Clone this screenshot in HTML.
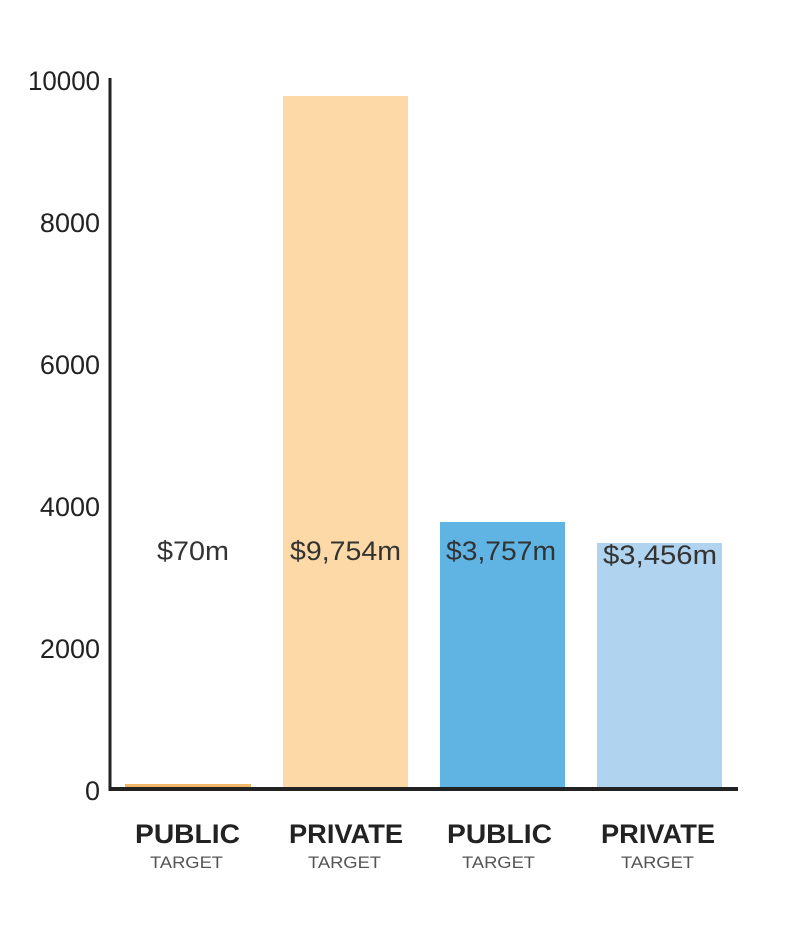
<!DOCTYPE html>
<html><head><style>
body{margin:0;background:#fff;}
svg{display:block;}
</style></head><body>
<svg width="800" height="925" xmlns="http://www.w3.org/2000/svg" font-family="Liberation Sans, sans-serif">
<rect width="800" height="925" fill="#fff"/>
<g font-size="27" fill="#222" text-anchor="end">
<text x="100" y="90" textLength="72" lengthAdjust="spacingAndGlyphs">10000</text>
<text x="100" y="232">8000</text>
<text x="100" y="374">6000</text>
<text x="100" y="516">4000</text>
<text x="100" y="658">2000</text>
<text x="100" y="800">0</text>
</g>
<rect x="125" y="784" width="126" height="6" fill="#f0b868"/>
<rect x="283" y="96" width="125" height="694" fill="#fdd9a8"/>
<rect x="440" y="522" width="125" height="268" fill="#5fb4e4"/>
<rect x="597" y="543" width="125" height="247" fill="#b0d4ef"/>
<line x1="110" y1="78" x2="110" y2="791" stroke="#222" stroke-width="3"/>
<line x1="109" y1="789" x2="738" y2="789" stroke="#222" stroke-width="4"/>
<g font-size="27" fill="#333">
<text x="157" y="560" textLength="72" lengthAdjust="spacingAndGlyphs">$70m</text>
<text x="290" y="560" textLength="111" lengthAdjust="spacingAndGlyphs">$9,754m</text>
<text x="446" y="560" textLength="110" lengthAdjust="spacingAndGlyphs">$3,757m</text>
<text x="603" y="564" textLength="114" lengthAdjust="spacingAndGlyphs">$3,456m</text>
</g>
<g font-size="27" font-weight="bold" fill="#222">
<text x="135" y="843" textLength="105" lengthAdjust="spacingAndGlyphs">PUBLIC</text>
<text x="289" y="843" textLength="114" lengthAdjust="spacingAndGlyphs">PRIVATE</text>
<text x="447" y="843" textLength="105" lengthAdjust="spacingAndGlyphs">PUBLIC</text>
<text x="601" y="843" textLength="114" lengthAdjust="spacingAndGlyphs">PRIVATE</text>
</g>
<g font-size="17" fill="#555">
<text x="150" y="868" textLength="73" lengthAdjust="spacingAndGlyphs">TARGET</text>
<text x="308" y="868" textLength="73" lengthAdjust="spacingAndGlyphs">TARGET</text>
<text x="462" y="868" textLength="73" lengthAdjust="spacingAndGlyphs">TARGET</text>
<text x="621" y="868" textLength="73" lengthAdjust="spacingAndGlyphs">TARGET</text>
</g>
</svg>
</body></html>
